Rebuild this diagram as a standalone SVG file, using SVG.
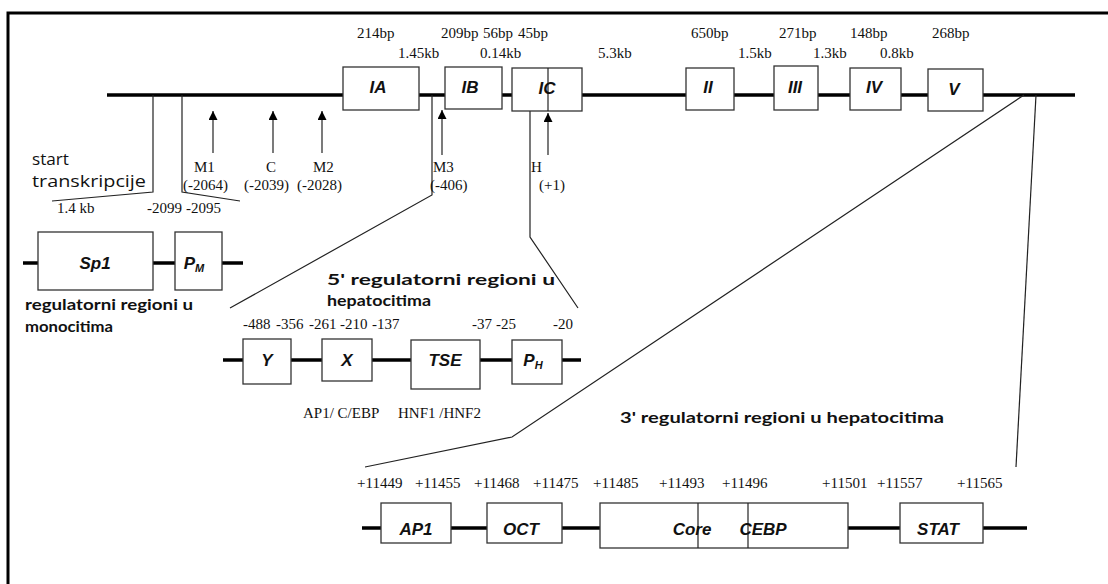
<svg xmlns="http://www.w3.org/2000/svg" width="1108" height="584" viewBox="0 0 1108 584">
<defs>
<marker id="ah" viewBox="0 0 10 10" refX="10" refY="5" markerWidth="10" markerHeight="9" markerUnits="userSpaceOnUse" orient="auto">
<path d="M0,0 L10,5 L0,10 Z" fill="#000"/>
</marker>
<style>
.dna{stroke:#000;stroke-width:3.5;fill:none}
.box{fill:#fff;stroke:#333;stroke-width:1.3}
.ln{stroke:#222;stroke-width:1.2;fill:none}
.num{font-family:"Liberation Serif",serif;font-size:15px;fill:#111}
.bl{font-family:"Liberation Sans",Arial,sans-serif;font-weight:bold;font-style:italic;font-size:17px;fill:#111;text-anchor:middle}
.lab{font-family:Lato,"Open Sans",sans-serif;font-weight:bold;font-size:16px;fill:#111}
.lab2{font-family:"Open Sans",Lato,sans-serif;font-size:16px;fill:#111}
</style>
</defs>
<rect width="1108" height="584" fill="#fff"/>
<path d="M8,584 V13 H1108" stroke="#000" stroke-width="3" fill="none"/>

<g id="connectors">
<line class="dna" x1="107" y1="95" x2="1075" y2="95"/>
<line class="dna" x1="23" y1="263" x2="243" y2="263"/>
<line class="dna" x1="223" y1="360" x2="581" y2="360"/>
<line class="dna" x1="362" y1="528" x2="1027" y2="528"/>
<polyline class="ln" points="153,95 153,192 52,201"/>
<polyline class="ln" points="182,95 182,192 240,201"/>
<polyline class="ln" points="432,95 432,195 230,308"/>
<polyline class="ln" points="530,110 530,237 578,308"/>
<polyline class="ln" points="1024,95 512,437 365,467"/>
<polyline class="ln" points="1036,95 1016,467"/>
<line class="ln" x1="213" y1="153" x2="213" y2="111" marker-end="url(#ah)"/>
<line class="ln" x1="273" y1="153" x2="273" y2="111" marker-end="url(#ah)"/>
<line class="ln" x1="322" y1="153" x2="322" y2="111" marker-end="url(#ah)"/>
<line class="ln" x1="442" y1="155" x2="442" y2="110" marker-end="url(#ah)"/>
<line class="ln" x1="548" y1="155" x2="548" y2="113" marker-end="url(#ah)"/>
</g>

<g id="IA"><rect class="box" x="343" y="67" width="76" height="43"/><text class="bl" x="378" y="93">IA</text></g>
<g id="IB"><rect class="box" x="445" y="67" width="57" height="42"/><text class="bl" x="470" y="93">IB</text></g>
<g id="IC"><rect class="box" x="512" y="68" width="70" height="43"/><line class="ln" x1="548" y1="68" x2="548" y2="111"/><text class="bl" x="547" y="94">IC</text></g>
<g id="II"><rect class="box" x="686" y="68" width="48" height="42"/><text class="bl" x="708" y="93">II</text></g>
<g id="III"><rect class="box" x="774" y="66" width="44" height="44"/><text class="bl" x="795" y="93">III</text></g>
<g id="IV"><rect class="box" x="850" y="68" width="51" height="42"/><text class="bl" x="874" y="93">IV</text></g>
<g id="V"><rect class="box" x="928" y="69" width="55" height="42"/><text class="bl" x="954" y="95">V</text></g>

<g id="top-labels" class="num" font-size="14">
<text x="357" y="38">214bp</text>
<text x="398" y="58">1.45kb</text>
<text x="441" y="38">209bp</text>
<text x="480" y="58">0.14kb</text>
<text x="483" y="38">56bp</text>
<text x="518" y="38">45bp</text>
<text x="598" y="58">5.3kb</text>
<text x="691" y="38">650bp</text>
<text x="738" y="58">1.5kb</text>
<text x="779" y="38">271bp</text>
<text x="813" y="58">1.3kb</text>
<text x="850" y="38">148bp</text>
<text x="880" y="58">0.8kb</text>
<text x="932" y="38">268bp</text>
</g>

<g id="sites" class="num">
<text x="194" y="172">M1</text><text x="183" y="190">(-2064)</text>
<text x="266" y="172">C</text><text x="244" y="190">(-2039)</text>
<text x="313" y="172">M2</text><text x="297" y="190">(-2028)</text>
<text x="433" y="172">M3</text><text x="430" y="190">(-406)</text>
<text x="531" y="172">H</text><text x="539" y="190">(+1)</text>
<text x="57" y="213">1.4 kb</text>
<text x="147" y="213">-2099</text>
<text x="186" y="213">-2095</text>
</g>

<g id="start-label">
<text class="lab2" x="32" y="165" textLength="37" lengthAdjust="spacingAndGlyphs">start</text>
<text class="lab2" x="32" y="187" textLength="114" lengthAdjust="spacingAndGlyphs">transkripcije</text>
</g>

<g id="Sp1"><rect class="box" x="38" y="232" width="115" height="58"/><text class="bl" x="95" y="269">Sp1</text></g>
<g id="PM"><rect class="box" x="175" y="232" width="47" height="58"/><text class="bl" x="194" y="269">P<tspan font-size="11" dy="3">M</tspan></text></g>
<g id="mono-label">
<text class="lab" x="25" y="310" textLength="168" lengthAdjust="spacingAndGlyphs">regulatorni regioni u</text>
<text class="lab" x="25" y="332" textLength="88" lengthAdjust="spacingAndGlyphs">monocitima</text>
</g>

<g id="hep5-label">
<text class="lab" x="327" y="285" font-size="17" textLength="228" lengthAdjust="spacingAndGlyphs">5' regulatorni regioni u</text>
<text class="lab" x="327" y="306" font-size="17" textLength="104" lengthAdjust="spacingAndGlyphs">hepatocitima</text>
</g>
<g id="hep5-nums" class="num" font-size="13">
<text x="243" y="329">-488</text>
<text x="276" y="329">-356</text>
<text x="309" y="329">-261</text>
<text x="340" y="329">-210</text>
<text x="372" y="329">-137</text>
<text x="472" y="329">-37</text>
<text x="496" y="329">-25</text>
<text x="553" y="329">-20</text>
</g>
<g id="hep5-factors" class="num" font-size="16">
<text x="303" y="418">AP1/ C/EBP</text>
<text x="398" y="418">HNF1 /HNF2</text>
</g>
<g id="Y"><rect class="box" x="243" y="339" width="48" height="45"/><text class="bl" x="267" y="366">Y</text></g>
<g id="X"><rect class="box" x="322" y="339" width="50" height="42"/><text class="bl" x="347" y="366">X</text></g>
<g id="TSE"><rect class="box" x="411" y="340" width="69" height="49"/><text class="bl" x="445" y="366">TSE</text></g>
<g id="PH"><rect class="box" x="512" y="340" width="50" height="44"/><text class="bl" x="533" y="366">P<tspan font-size="11" dy="3">H</tspan></text></g>

<g id="hep3-label"><text class="lab" x="620" y="423" font-size="15" textLength="324" lengthAdjust="spacingAndGlyphs">3' regulatorni regioni u hepatocitima</text></g>
<g id="hep3-nums" class="num">
<text x="357" y="488">+11449</text>
<text x="415" y="488">+11455</text>
<text x="474" y="488">+11468</text>
<text x="533" y="488">+11475</text>
<text x="593" y="488">+11485</text>
<text x="659" y="488">+11493</text>
<text x="722" y="488">+11496</text>
<text x="822" y="488">+11501</text>
<text x="877" y="488">+11557</text>
<text x="957" y="488">+11565</text>
</g>
<g id="AP1"><rect class="box" x="381" y="503" width="70" height="40"/><text class="bl" x="416" y="535" font-size="18">AP1</text></g>
<g id="OCT"><rect class="box" x="487" y="503" width="75" height="40"/><text class="bl" x="521" y="535" font-size="18">OCT</text></g>
<g id="Core-CEBP"><rect class="box" x="600" y="503" width="248" height="45"/><line class="ln" x1="698" y1="503" x2="698" y2="548"/><line class="ln" x1="748" y1="503" x2="748" y2="548"/><text class="bl" x="692" y="535" font-size="18">Core</text><text class="bl" x="763" y="535" font-size="18">CEBP</text></g>
<g id="STAT"><rect class="box" x="900" y="503" width="83" height="40"/><text class="bl" x="938" y="535" font-size="18">STAT</text></g>
</svg>
